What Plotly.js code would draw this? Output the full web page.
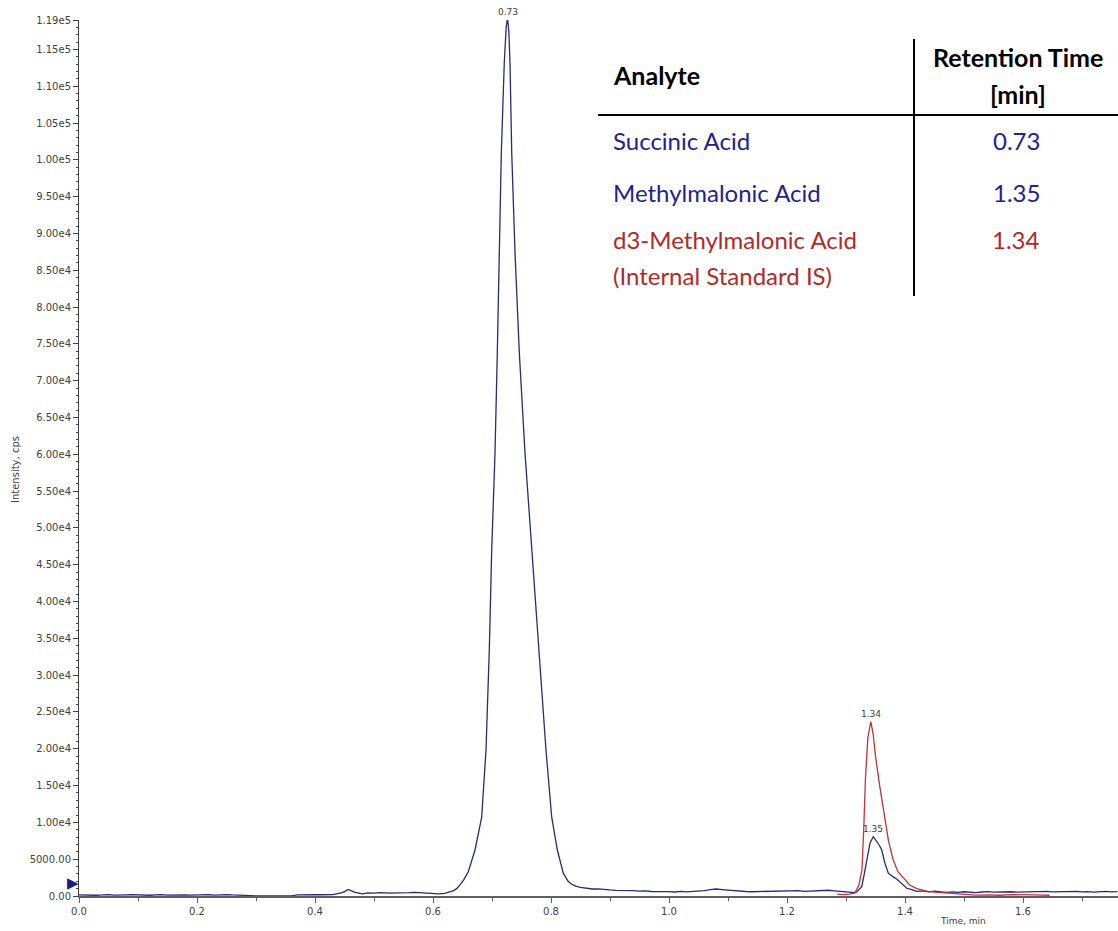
<!DOCTYPE html>
<html>
<head>
<meta charset="utf-8">
<script src="https://cdn.plot.ly/plotly-3.0.1.min.js"></script>
<style>html,body{margin:0;padding:0;background:#fff;}#chart{width:1118px;height:931px;}</style>
</head>
<body>
<div id="chart"></div>
<script>
// ---- data ----
var blueTime = [0.000,0.010,0.020,0.030,0.040,0.050,0.060,0.070,0.080,0.090,0.100,0.110,0.120,0.130,0.140,0.150,0.160,0.170,0.180,0.190,0.200,0.210,0.220,0.230,0.240,0.250,0.260,0.270,0.280,0.290,0.300,0.320,0.340,0.360,0.370,0.380,0.390,0.400,0.410,0.420,0.430,0.440,0.445,0.450,0.456,0.462,0.468,0.475,0.480,0.490,0.500,0.510,0.520,0.530,0.540,0.550,0.560,0.570,0.580,0.590,0.600,0.610,0.620,0.625,0.630,0.635,0.640,0.6458,0.652,0.6598,0.6712,0.6825,0.6898,0.6954,0.6995,0.7051,0.7090,0.7124,0.7158,0.7208,0.7240,0.7263,0.7285,0.7305,0.7334,0.7390,0.7463,0.7559,0.7673,0.7785,0.7915,0.8012,0.8107,0.8208,0.8290,0.8351,0.842,0.850,0.860,0.870,0.880,0.890,0.900,0.910,0.920,0.930,0.940,0.950,0.960,0.970,0.980,0.990,1.000,1.010,1.020,1.030,1.040,1.050,1.060,1.070,1.080,1.090,1.100,1.110,1.120,1.130,1.140,1.150,1.160,1.170,1.180,1.190,1.200,1.210,1.220,1.230,1.240,1.250,1.260,1.270,1.280,1.290,1.300,1.310,1.318,1.3266,1.331,1.335,1.3407,1.3463,1.352,1.3565,1.3605,1.366,1.3717,1.376,1.380,1.386,1.3915,1.397,1.403,1.410,1.420,1.430,1.440,1.450,1.460,1.470,1.480,1.490,1.500,1.510,1.520,1.530,1.540,1.550,1.560,1.570,1.580,1.590,1.600,1.610,1.620,1.630,1.640,1.650,1.660,1.670,1.680,1.690,1.700,1.710,1.720,1.730,1.740,1.750,1.760];
var blueIntensity = [150,120,180,100,140,200,110,90,160,180,130,170,100,150,190,120,160,200,140,110,170,150,190,130,170,200,140,120,160,60,0,0,0,30,150,180,140,200,170,210,190,350,420,600,900,700,500,380,300,420,380,450,400,380,420,390,460,500,430,380,330,280,350,500,560,720,1000,1500,2200,3300,6250,10700,19800,33400,47000,60200,73800,87400,101000,113200,118000,119300,117500,113200,101000,87400,73800,60200,47000,33400,19800,10700,6250,3100,2000,1600,1350,1180,1080,950,980,860,820,760,780,700,720,660,690,610,620,570,600,540,620,570,600,650,720,880,950,870,780,700,650,610,580,600,560,590,620,580,600,650,720,640,680,760,820,780,700,620,560,480,520,1260,3000,4900,7200,8050,7400,6900,6250,4450,3100,2800,2600,2300,1900,1400,1050,900,620,700,560,650,540,480,560,500,580,520,460,540,600,520,560,620,580,520,560,600,540,580,620,560,600,540,580,640,560,600,520,580,620,560,600];

var redTime = [1.285,1.295,1.305,1.315,1.322,1.327,1.330,1.333,1.337,1.342,1.346,1.350,1.357,1.365,1.372,1.380,1.388,1.397,1.408,1.420,1.430,1.440,1.455,1.470,1.485,1.500,1.520,1.540,1.560,1.580,1.600,1.620,1.645];
var redIntensity = [250,200,260,400,1500,3500,9000,16000,21500,23700,22000,19000,15000,11000,7500,4900,3300,2500,1500,1000,800,600,500,400,300,200,120,150,100,180,120,150,100];

var peakLabels = ["0.73","1.34","1.35"];
var peakLabelTime = [0.7263,1.342,1.3463];
var peakLabelIntensity = [119000,23700,8050];

var markerIntensity = 1700;

var yTickVals = [];
var yTickText = [];
for (var v = 0; v <= 115000; v += 5000) {
  yTickVals.push(v);
  if (v === 0) yTickText.push("0.00");
  else if (v < 10000) yTickText.push(v.toFixed(2));
  else yTickText.push((v / Math.pow(10, Math.floor(Math.log10(v)))).toFixed(2) + "e" + Math.floor(Math.log10(v)));
}
yTickVals.push(119000); yTickText.push("1.19e5");

var tableNames = ["Succinic Acid","Methylmalonic Acid","d3-Methylmalonic Acid","(Internal Standard IS)"];
var tableTimes = ["0.73","1.35","1.34",""];
var tableColors = ["#22228f","#22228f","#b02a2a","#b02a2a"];

// ---- layout helpers (pixel -> paper) ----
var W = 1118, H = 931, ML = 79, MR = 0, MT = 20, MB = 35;
function px(x){ return (x - ML) / (W - ML - MR); }
function py(y){ return (H - MB - y) / (H - MT - MB); }

var tickFont = {family: "DejaVu Sans", size: 10, color: "#404040"};
var tabFont = "Lato";

var annotations = [];
for (var i = 0; i < peakLabels.length; i++) {
  annotations.push({x: peakLabelTime[i], y: peakLabelIntensity[i], xref: "x", yref: "y", text: peakLabels[i],
    showarrow: false, xanchor: "center", yanchor: "bottom", yshift: 1, font: {family: "DejaVu Sans", size: 9, color: "#404040"}});
}
annotations.push({xref: "paper", yref: "paper", x: px(15), y: py(470), xanchor: "center", yanchor: "middle",
  text: "Intensity, cps", textangle: -90, showarrow: false, font: {family: "DejaVu Sans", size: 10, color: "#404040"}});
annotations.push({xref: "paper", yref: "paper", x: px(963), y: py(921), xanchor: "center", yanchor: "middle",
  text: "Time, min", showarrow: false, font: {family: "DejaVu Sans", size: 9, color: "#404040"}});
annotations.push({xref: "paper", yref: "y", x: px(80), y: markerIntensity, xanchor: "right", yanchor: "middle",
  text: "\u25B6", showarrow: false, borderpad: 0, font: {family: "DejaVu Sans", size: 15, color: "#1a1a80"}});

// table text
function tab(x, y, text, xanchor, color, size) {
  annotations.push({xref: "paper", yref: "paper", x: px(x), y: py(y), xanchor: xanchor, yanchor: "middle",
    text: text, showarrow: false, font: {family: tabFont, size: size, color: color}});
}
tab(611, 75, "<b>Analyte</b>", "left", "#000", 25);
tab(1018, 57, "<b>Retention Time</b>", "center", "#000", 25);
tab(1018, 94, "<b>[min]</b>", "center", "#000", 25);
var rowY = [140, 193, 239, 275];
for (var r = 0; r < tableNames.length; r++) {
  tab(611, rowY[r], tableNames[r], "left", tableColors[r], 24);
  if (tableTimes[r]) tab(1016, rowY[r], tableTimes[r], "center", tableColors[r], 24);
}

var shapes = [
  {type: "line", xref: "paper", yref: "paper", x0: px(598), x1: px(1118), y0: py(115), y1: py(115), line: {color: "#000", width: 2}},
  {type: "line", xref: "paper", yref: "paper", x0: px(914), x1: px(914), y0: py(39), y1: py(296), line: {color: "#000", width: 2}}
];

var traces = [
  {x: blueTime, y: blueIntensity, type: "scatter", mode: "lines", line: {color: "#2a2a78", width: 1.3}, hoverinfo: "x+y"},
  {x: redTime, y: redIntensity, type: "scatter", mode: "lines", line: {color: "#c0343c", width: 1.3}, hoverinfo: "x+y"}
];

var layout = {
  width: W, height: H,
  margin: {l: ML, r: MR, t: MT, b: MB, pad: 0},
  paper_bgcolor: "#fff", plot_bgcolor: "#fff",
  showlegend: false,
  xaxis: {range: [0, 1.761], showgrid: false, zeroline: false, showline: true, linecolor: "#606060", linewidth: 2,
    ticks: "outside", ticklen: 5, tickcolor: "#606060", tickmode: "linear", tick0: 0, dtick: 0.2, tickformat: ".1f",
    minor: {tickmode: "linear", tick0: 0, dtick: 0.1, ticks: "outside", ticklen: 3, tickcolor: "#606060"},
    tickfont: tickFont, layer: "above traces", fixedrange: true},
  yaxis: {range: [0, 119000], showgrid: false, zeroline: false, showline: true, linecolor: "#404040", linewidth: 1,
    ticks: "outside", ticklen: 5, tickcolor: "#404040", tickmode: "array", tickvals: yTickVals, ticktext: yTickText,
    minor: {tickmode: "linear", tick0: 0, dtick: 1000, ticks: "outside", ticklen: 2, tickcolor: "#404040"},
    tickfont: tickFont, layer: "above traces", fixedrange: true},
  annotations: annotations,
  shapes: shapes
};

Plotly.newPlot("chart", traces, layout, {displayModeBar: false, staticPlot: true});
</script>
</body>
</html>
